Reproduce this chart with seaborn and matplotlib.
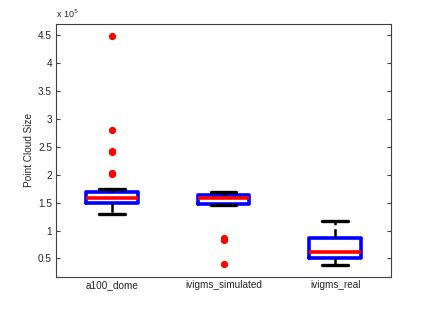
import numpy as np
import pandas as pd
import seaborn as sns
import matplotlib
matplotlib.use("Agg")
import matplotlib.pyplot as plt
from matplotlib.ticker import FuncFormatter

# point cloud sizes, in units of 1e5
groups = ["a100_dome", "ivigms_simulated", "ivigms_real"]
a100_dome = [1.29, 1.36, 1.42, 1.45, 1.47, 1.48, 1.49, 1.50,
             1.52, 1.53, 1.55, 1.56, 1.57, 1.58, 1.59,
             1.60, 1.62, 1.64, 1.66, 1.68, 1.69, 1.70, 1.75,
             2.01, 2.03, 2.40, 2.43, 2.80, 4.49]
ivigms_simulated = [0.41, 0.84, 0.86, 1.46, 1.48, 1.52, 1.55, 1.57, 1.59,
                    1.60, 1.61, 1.62, 1.63, 1.65, 1.66, 1.68, 1.69]
ivigms_real = [0.38, 0.45, 0.50, 0.56, 0.62, 0.75, 0.87, 1.00, 1.17]

df = pd.DataFrame({
    "dataset": [groups[0]] * len(a100_dome) + [groups[1]] * len(ivigms_simulated)
               + [groups[2]] * len(ivigms_real),
    "size": a100_dome + ivigms_simulated + ivigms_real,
})

sns.set_style("white")
plt.rcParams["font.family"] = ["Liberation Sans", "DejaVu Sans"]

fig = plt.figure(figsize=(4.32, 3.25), dpi=100)
ax = fig.add_axes([0.130, 0.148, 0.775, 0.778])

sns.boxplot(data=df, x="dataset", y="size", order=groups, ax=ax,
            width=0.46, fill=False, whis=1.5,
            boxprops=dict(color="blue", linewidth=2.6),
            medianprops=dict(color="red", linewidth=2.6),
            whiskerprops=dict(color="black", linewidth=1.8, linestyle="--"),
            capprops=dict(color="black", linewidth=2.4),
            flierprops=dict(marker="o", markersize=4.2, markerfacecolor="red",
                            markeredgecolor="red"))

ax.set_xlim(0.5 - 1, 3.5 - 1)
ax.set_ylim(0.17, 4.7)
ax.set_yticks(np.arange(0.5, 4.51, 0.5))
ax.yaxis.set_major_formatter(FuncFormatter(lambda v, p: f"{v:g}"))
ax.set_xlabel("")
ax.set_ylabel("Point Cloud Size", fontsize=7.2, labelpad=3)
ax.tick_params(axis="y", direction="in", length=3, labelsize=7.2, right=True,
               left=True, color="#404040", pad=3)
ax.tick_params(axis="x", length=0, labelsize=7.2, pad=2)
for s in ax.spines.values():
    s.set_visible(True)
    s.set_color("#404040")
    s.set_linewidth(0.8)
ax.text(0.0, 1.015, r"x 10$^5$", transform=ax.transAxes, fontsize=6.5,
        ha="left", va="bottom")

fig.savefig("out.png", dpi=100)
